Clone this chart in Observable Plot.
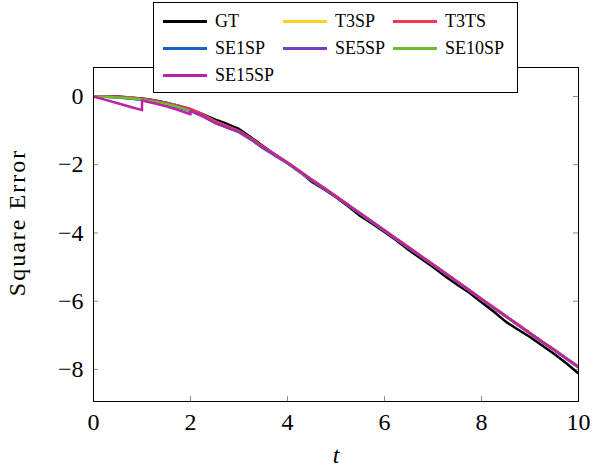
<!DOCTYPE html>
<html><head><meta charset="utf-8">
<script src="https://cdn.jsdelivr.net/npm/d3@7"></script>
<script src="https://cdn.jsdelivr.net/npm/@observablehq/plot@0.6"></script>
<style>
body{margin:0;background:#fff;}
#wrap{position:relative;width:592px;height:470px;font-family:"Liberation Serif",serif;}
#legend{position:absolute;left:153px;top:2px;width:365px;height:91px;border:1px solid #000;background:#fff;box-sizing:border-box;}
.item{position:absolute;height:20px;display:flex;align-items:center;font-size:18px;line-height:20px;color:#000;white-space:nowrap;}
.sw{width:44px;height:3px;margin-right:8px;}
</style></head><body><div id="wrap"></div>
<script>
// ---- data ----
const names = ["GT","T3SP","T3TS","SE1SP","SE5SP","SE10SP","SE15SP"];
const colors = ["#000000","#FFD21F","#F2384E","#1565C0","#7B3FC0","#73BB2E","#C21FA6"];
const t = [0,0.25,0.5,0.75,1,1.25,1.5,1.75,2,2.25,2.5,2.75,3,3.25,3.5,3.75,4,4.25,4.5,4.75,5,5.25,5.5,5.75,6,6.25,6.5,6.75,7,7.25,7.5,7.75,8,8.25,8.5,8.75,9,9.25,9.5,9.75,10];
const GT     = [0,0.01,0.0,-0.03,-0.06,-0.11,-0.18,-0.27,-0.38,-0.52,-0.67,-0.8,-0.95,-1.2,-1.46,-1.71,-1.94,-2.2,-2.5,-2.72,-2.95,-3.22,-3.5,-3.73,-3.97,-4.22,-4.5,-4.75,-5.0,-5.27,-5.52,-5.75,-6.03,-6.3,-6.6,-6.83,-7.05,-7.3,-7.55,-7.82,-8.12];
const T3SP   = [0,-0.01,-0.02,-0.04,-0.08,-0.13,-0.2,-0.28,-0.38,-0.54,-0.73,-0.88,-1.02,-1.24,-1.49,-1.71,-1.94,-2.19,-2.44,-2.68,-2.92,-3.17,-3.42,-3.67,-3.92,-4.17,-4.42,-4.67,-4.92,-5.17,-5.42,-5.67,-5.93,-6.18,-6.43,-6.68,-6.93,-7.18,-7.42,-7.67,-7.92];
const T3TS   = [0,0.0,-0.01,-0.03,-0.07,-0.12,-0.19,-0.27,-0.36,-0.52,-0.72,-0.87,-1.01,-1.23,-1.48,-1.7,-1.93,-2.18,-2.43,-2.67,-2.92,-3.17,-3.42,-3.67,-3.92,-4.17,-4.42,-4.67,-4.92,-5.17,-5.42,-5.67,-5.93,-6.18,-6.43,-6.68,-6.93,-7.18,-7.42,-7.67,-7.92];
const SE1SP  = [0,-0.01,-0.03,-0.06,-0.1,-0.16,-0.24,-0.33,-0.43,-0.58,-0.77,-0.91,-1.05,-1.27,-1.52,-1.74,-1.96,-2.22,-2.46,-2.7,-2.94,-3.19,-3.44,-3.69,-3.94,-4.19,-4.44,-4.69,-4.94,-5.19,-5.44,-5.69,-5.95,-6.2,-6.45,-6.7,-6.95,-7.2,-7.44,-7.69,-7.94];
const SE5SP  = [0,-0.01,-0.02,-0.05,-0.09,-0.14,-0.21,-0.3,-0.41,-0.56,-0.76,-0.9,-1.03,-1.25,-1.5,-1.72,-1.95,-2.2,-2.45,-2.69,-2.93,-3.18,-3.43,-3.68,-3.93,-4.18,-4.43,-4.68,-4.93,-5.18,-5.43,-5.68,-5.94,-6.19,-6.44,-6.69,-6.94,-7.19,-7.43,-7.68,-7.93];
const SE10SP = [0,-0.01,-0.03,-0.05,-0.09,-0.15,-0.22,-0.31,-0.42,-0.57,-0.76,-0.9,-1.03,-1.25,-1.5,-1.72,-1.95,-2.21,-2.45,-2.69,-2.93,-3.18,-3.43,-3.68,-3.93,-4.18,-4.43,-4.68,-4.93,-5.18,-5.43,-5.68,-5.94,-6.19,-6.44,-6.69,-6.94,-7.19,-7.43,-7.68,-7.93];
const t15    = [0,0.25,0.5,0.75,1,1,1.25,1.5,1.75,2,2,2.25,2.5,2.75,3,3.25,3.5,3.75,4,4.25,4.5,4.75,5,5.25,5.5,5.75,6,6.25,6.5,6.75,7,7.25,7.5,7.75,8,8.25,8.5,8.75,9,9.25,9.5,9.75,10];
const SE15SP = [0,-0.1,-0.2,-0.3,-0.4,-0.12,-0.2,-0.29,-0.4,-0.52,-0.41,-0.57,-0.77,-0.9,-1.03,-1.25,-1.5,-1.72,-1.95,-2.2,-2.45,-2.69,-2.93,-3.18,-3.43,-3.68,-3.93,-4.18,-4.43,-4.68,-4.93,-5.18,-5.43,-5.68,-5.94,-6.19,-6.44,-6.69,-6.94,-7.19,-7.43,-7.68,-7.93];
const xTicks = [0,2,4,6,8,10];
const yTicks = [0,-2,-4,-6,-8];
const xLabel = "t";
const yLabel = "Square Error";

// ---- build ----
const seriesVals = [GT,T3SP,T3TS,SE1SP,SE5SP,SE10SP,SE15SP];
const seriesT = [t,t,t,t,t,t,t15];
const data = names.map((n,k)=>seriesT[k].map((tt,i)=>({t:tt, v:seriesVals[k][i], name:n})));
const fmt = d => d < 0 ? "\u2212" + (-d) : String(d);
const W=592,H=470,mL=93,mR=14,mT=67,mB=69;
const fw=W-mL-mR, fh=H-mT-mB;

const chart = Plot.plot({
  width:W, height:H, marginLeft:mL, marginRight:mR, marginTop:mT, marginBottom:mB,
  style:{fontFamily:"'Liberation Serif', serif", fontSize:"24px", background:"white", color:"black"},
  x:{domain:[0,10]},
  y:{domain:[-8.94,0.85]},
  color:{domain:names, range:colors},
  marks:[
    Plot.tickX(xTicks,{x:d=>d, insetTop:fh-5, stroke:"#888", strokeWidth:1}),
    Plot.tickX(xTicks,{x:d=>d, insetBottom:fh-5, stroke:"#888", strokeWidth:1}),
    Plot.tickY(yTicks,{y:d=>d, insetRight:fw-5, stroke:"#888", strokeWidth:1}),
    Plot.tickY(yTicks,{y:d=>d, insetLeft:fw-5, stroke:"#888", strokeWidth:1}),
    ...data.map(d=>Plot.line(d,{x:"t", y:"v", stroke:"name", strokeWidth:2.5, clip:true})),
    Plot.frame({stroke:"black", strokeWidth:1}),
    Plot.axisX({ticks:xTicks, tickSize:0, tickPadding:11, tickFormat:fmt, label:null, fontSize:24}),
    Plot.axisY({ticks:yTicks, tickSize:0, tickPadding:10, tickFormat:fmt, label:null, fontSize:24}),
    Plot.text([xLabel],{text:d=>d, frameAnchor:"bottom", lineAnchor:"middle", textAnchor:"middle", dy:54, fontStyle:"italic", fontSize:24}),
    Plot.text([yLabel],{text:d=>d, frameAnchor:"left", lineAnchor:"middle", textAnchor:"middle", rotate:-90, dx:-76, dy:-12, fontSize:24, className:"ylab"})
  ]
});
d3.select(chart).selectAll(".ylab text").style("letter-spacing","2px");
const wrap = document.getElementById("wrap");
wrap.appendChild(chart);

// legend
const leg = document.createElement("div");
leg.id = "legend";
const colX = [9, 129, 239];
const rowY = [8, 35, 62];
names.forEach((n,k)=>{
  const it = document.createElement("div");
  it.className = "item";
  it.style.left = colX[k%3]+"px";
  it.style.top = rowY[Math.floor(k/3)]+"px";
  const sw = document.createElement("span");
  sw.className = "sw";
  sw.style.background = colors[k];
  const tx = document.createElement("span");
  tx.textContent = n;
  it.appendChild(sw); it.appendChild(tx);
  leg.appendChild(it);
});
wrap.appendChild(leg);
</script></body></html>
